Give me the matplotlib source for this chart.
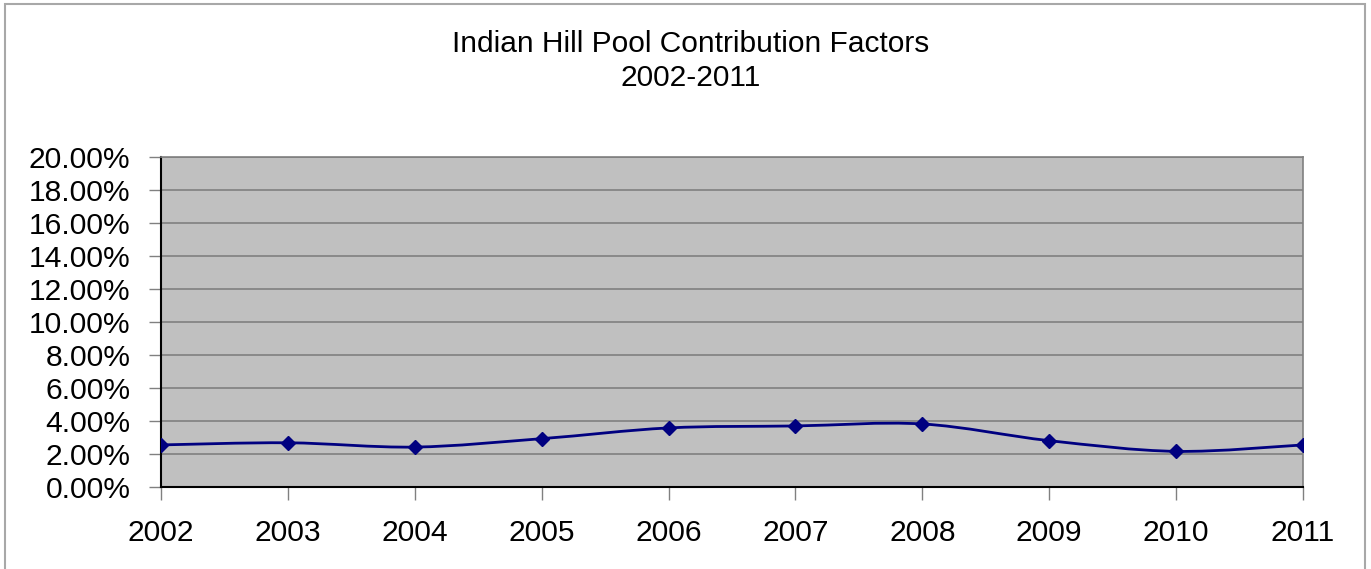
import matplotlib
matplotlib.use('Agg')
import matplotlib.pyplot as plt
from matplotlib.path import Path
from matplotlib.patches import PathPatch, Rectangle
from matplotlib.ticker import FuncFormatter, MultipleLocator

years = [2002, 2003, 2004, 2005, 2006, 2007, 2008, 2009, 2010, 2011]
factors = [2.55, 2.68, 2.42, 2.93, 3.58, 3.70, 3.82, 2.81, 2.16, 2.55]  # percent

TITLE = 'Indian Hill Pool Contribution Factors\n2002-2011'
NAVY = '#000080'


def smooth_path(xs, ys):
    """Excel-style smoothed line: cubic Bezier segments through the data points."""
    pts = list(zip(xs, ys))
    verts = [pts[0]]
    codes = [Path.MOVETO]
    n = len(pts)
    for i in range(n - 1):
        p0 = pts[max(i - 1, 0)]
        p1 = pts[i]
        p2 = pts[i + 1]
        p3 = pts[min(i + 2, n - 1)]
        c1 = (p1[0] + (p2[0] - p0[0]) / 6, p1[1] + (p2[1] - p0[1]) / 6)
        c2 = (p2[0] - (p3[0] - p1[0]) / 6, p2[1] - (p3[1] - p1[1]) / 6)
        verts += [c1, c2, p2]
        codes += [Path.CURVE4] * 3
    return Path(verts, codes)


plt.rcParams['font.family'] = ['Liberation Sans', 'DejaVu Sans']

W, H = 1371, 569
fig = plt.figure(figsize=(W / 100, H / 100), dpi=100)

# outer chart-area border
fig.patches.append(Rectangle((5 / W, -0.1), 1360 / W, 1 - 4 / H + 0.1,
                             transform=fig.transFigure, fill=False,
                             edgecolor='#a8a8a8', lw=1.5))

left, right, top, bottom = 161, 1303, 157, 487
ax = fig.add_axes([left / W, 1 - bottom / H, (right - left) / W, (bottom - top) / H])
ax.set_facecolor('#c0c0c0')

ax.add_patch(PathPatch(smooth_path(years, factors), fill=False,
                       edgecolor=NAVY, lw=2, zorder=3))
ax.plot(years, factors, ls='none', marker='D', ms=7, color=NAVY, zorder=4)

ax.set_xlim(years[0], years[-1])
ax.set_ylim(0, 20)
ax.set_xticks(years)
ax.yaxis.set_major_locator(MultipleLocator(2))
ax.yaxis.set_major_formatter(FuncFormatter(lambda v, _: f'{v:.2f}%'))
ax.grid(axis='y', color='#808080', lw=1.2)
ax.set_axisbelow(True)

for side in ('top', 'right'):
    ax.spines[side].set_color('#808080')
    ax.spines[side].set_linewidth(1.2)
for side in ('left', 'bottom'):
    ax.spines[side].set_color('black')
    ax.spines[side].set_linewidth(1.5)

ax.tick_params(axis='both', length=9, width=1, color='#808080', labelsize=21.6)
ax.tick_params(axis='x', pad=14)
ax.tick_params(axis='y', pad=13)

fig.text(691 / W, 1 - 61 / H, TITLE, ha='center', va='center',
         fontsize=21.5, linespacing=1.3)

fig.savefig('out.png', dpi=100)
